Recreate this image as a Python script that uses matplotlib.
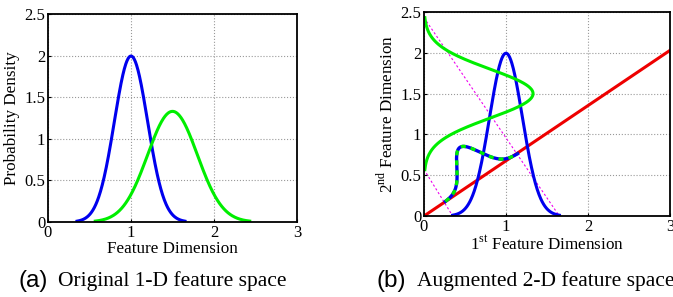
import numpy as np
from matplotlib import pyplot as plt

plt.rcParams['font.family'] = ['Liberation Serif', 'DejaVu Serif']
plt.rcParams['mathtext.fontset'] = 'custom'
plt.rcParams['mathtext.rm'] = 'Liberation Serif'

# class parameters (1-D feature space)
class_names = ['blue class', 'green class']
class_means = [1.0, 1.5]
class_sigmas = [0.2, 0.3]
class_lo = [0.35, 0.57]     # where each drawn curve starts
class_hi = [1.65, 2.43]     # where each drawn curve ends
class_colors = ['#0000ee', '#00ee00']

# augmented space: projection line y = slope * x
proj_slope = 2.0 / 3.0
proj_end = 3.0
proj_end_y = 2.03
proj_peak = 0.457        # height of the projected density drawn off the line

x_ticks = [0, 1, 2, 3]
y_ticks = [0, 0.5, 1, 1.5, 2, 2.5]
y_tick_labels = ['0', '0.5', '1', '1.5', '2', '2.5']


def gauss(mu, sd, t):
    return np.exp(-0.5 * ((t - mu) / sd) ** 2) / (sd * np.sqrt(2 * np.pi))


def style_axes(ax):
    ax.set_xlim(0, 3)
    ax.set_ylim(0, 2.5)
    ax.set_xticks(x_ticks)
    ax.set_yticks(y_ticks)
    ax.set_xticklabels([str(v) for v in x_ticks])
    ax.set_yticklabels(y_tick_labels)
    ax.grid(True, linestyle=':', color='#999999', linewidth=0.8)
    ax.tick_params(direction='in', length=2, labelsize=12, pad=2)
    for s in ax.spines.values():
        s.set_linewidth(1.3)


fig = plt.figure(figsize=(6.73, 2.97), dpi=100)
ax1 = fig.add_axes([48 / 673, 1 - 222 / 297, 249 / 673, 208 / 297])
ax2 = fig.add_axes([424 / 673, 1 - 216 / 297, 246 / 673, 204 / 297])

# (a) original 1-D densities
for mu, sd, lo, hi, c in zip(class_means, class_sigmas, class_lo, class_hi, class_colors):
    t = np.linspace(lo, hi, 300)
    ax1.plot(t, gauss(mu, sd, t), color=c, linewidth=2.2)
style_axes(ax1)
ax1.set_xlabel('Feature Dimension', fontsize=12.3, labelpad=0)
ax1.set_ylabel('Probability Density', fontsize=12.3, labelpad=3)

# (b) augmented 2-D space
mu_b, sd_b = class_means[0], class_sigmas[0]
mu_g, sd_g = class_means[1], class_sigmas[1]
tb = np.linspace(class_lo[0], class_hi[0], 300)
tg = np.linspace(class_lo[1], class_hi[1], 300)

# projection direction and its normal
u = np.array([1.0, proj_slope]) / np.hypot(1.0, proj_slope)
nrm = np.array([-u[1], u[0]])

# projected interval on the line
p_lo = np.dot([0, class_lo[1]], u)
p_hi = np.dot([class_hi[0], 0], u)
p_mu = mu_b * u[0]
p_sd = sd_b * u[0]
tp = np.linspace(p_lo, p_hi, 300)
hp = proj_peak * np.exp(-0.5 * ((tp - p_mu) / p_sd) ** 2)
px = tp * u[0] + hp * nrm[0]
py = tp * u[1] + hp * nrm[1]

# guide lines from the green ends to the blue ends
for y0, x1 in [(class_lo[1], class_lo[0]), (class_hi[1], class_hi[0])]:
    ax2.plot([0, x1], [y0, 0], color='#ee00ee', linestyle='--', linewidth=0.8,
             dashes=(2, 2))

ax2.plot([0, proj_end], [0, proj_end_y], color='#ee0000', linewidth=2.2)
ax2.plot(tb, gauss(mu_b, sd_b, tb), color=class_colors[0], linewidth=2.2)
ax2.plot(gauss(mu_g, sd_g, tg), tg, color=class_colors[1], linewidth=2.2)
ax2.plot(px, py, color=class_colors[0], linewidth=2.4)
ax2.plot(px, py, color=class_colors[1], linewidth=2.4, linestyle='--', dashes=(1.5, 1.5))
style_axes(ax2)
ax2.set_xlabel(r'1$^{\mathrm{st}}$ Feature Dimension', fontsize=12.3, labelpad=0)
ax2.set_ylabel(r'2$^{\mathrm{nd}}$ Feature Dimension', fontsize=12.3, labelpad=3)

# captions
for xa, xt, tag, txt in [(18, 58, '(a)', 'Original 1-D feature space'),
                         (377, 417, '(b)', 'Augmented 2-D feature space')]:
    fig.text(xa / 673, 1 - 281 / 297, tag, family='Liberation Sans',
             fontsize=17.5, va='center')
    fig.text(xt / 673, 1 - 281 / 297, txt, fontsize=15.5, va='center')

fig.savefig('out.png', dpi=100)
